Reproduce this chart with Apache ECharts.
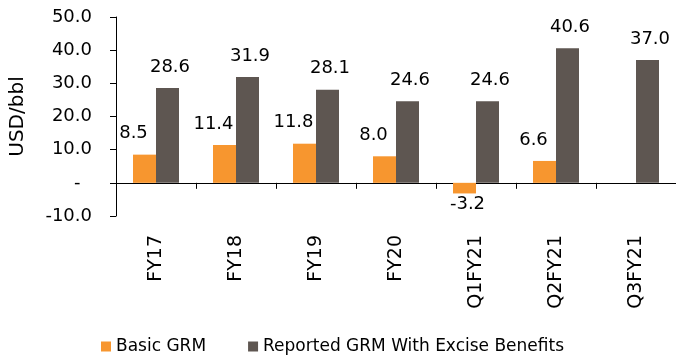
<!DOCTYPE html>
<html>
<head>
<meta charset="utf-8">
<style>
  html, body { margin: 0; padding: 0; background: #fff; }
  #chart { width: 676px; height: 363px; }
</style>
<script src="https://cdn.jsdelivr.net/npm/echarts@6/dist/echarts.min.js"></script>
</head>
<body>
<div id="chart"></div>
<script>
// Gross refining margins, USD per barrel
const categories = ['FY17', 'FY18', 'FY19', 'FY20', 'Q1FY21', 'Q2FY21', 'Q3FY21'];
const basicGRM = [8.5, 11.4, 11.8, 8.0, -3.2, 6.6, null];
const reportedGRM = [28.6, 31.9, 28.1, 24.6, 24.6, 40.6, 37.0];
const seriesNames = ['Basic GRM', 'Reported GRM With Excise Benefits'];
const axisTitle = 'USD/bbl';

const FONT = 'DejaVu Sans';
const ORANGE = '#F7962F';
const GREY = '#5E5651';

const fmt = v => (v === 0 ? '-  ' : v.toFixed(1));

// Negative bars carry their label beneath the bar end
const basicData = basicGRM.map(v => {
  if (v === null) return null;
  if (v < 0) {
    return { value: v, label: { position: 'bottom', distance: 2, offset: [3, 0] } };
  }
  return v;
});

const chart = echarts.init(document.getElementById('chart'));
chart.setOption({
  animation: false,
  grid: { left: 114, top: 17, width: 563.5, height: 199, containLabel: false },
  legend: {
    left: 96,
    top: 333,
    itemWidth: 10,
    itemHeight: 10,
    itemGap: 42,
    icon: 'rect',
    textStyle: { fontFamily: FONT, fontSize: 17, color: '#000' },
    data: seriesNames
  },
  xAxis: {
    type: 'category',
    data: categories,
    axisLine: { onZero: true, lineStyle: { color: '#000', width: 1 } },
    axisTick: { show: true, length: 6, alignWithLabel: false, lineStyle: { color: '#000' } },
    axisLabel: {
      rotate: 90,
      margin: 19,
      interval: 0,
      fontFamily: FONT,
      fontSize: 19,
      color: '#000'
    }
  },
  yAxis: {
    type: 'value',
    min: -10,
    max: 50,
    interval: 10,
    name: axisTitle,
    nameLocation: 'middle',
    nameGap: 88,
    nameRotate: 90,
    nameTextStyle: { fontFamily: FONT, fontSize: 20, color: '#000' },
    splitLine: { show: false },
    axisLine: { show: true, lineStyle: { color: '#000', width: 1 } },
    axisTick: { show: true, length: 6, lineStyle: { color: '#000' } },
    axisLabel: {
      margin: 24,
      fontFamily: FONT,
      fontSize: 18,
      color: '#000',
      formatter: fmt
    }
  },
  series: [
    {
      name: seriesNames[0],
      type: 'bar',
      data: basicData,
      barWidth: 23,
      barGap: '0%',
      itemStyle: { color: ORANGE },
      label: {
        show: true,
        position: 'top',
        distance: 12,
        offset: [-11, 0],
        fontFamily: FONT,
        fontSize: 18,
        color: '#000',
        formatter: p => fmt(p.value)
      }
    },
    {
      name: seriesNames[1],
      type: 'bar',
      data: reportedGRM,
      barWidth: 23,
      barGap: '0%',
      itemStyle: { color: GREY },
      label: {
        show: true,
        position: 'top',
        distance: 12,
        offset: [2.5, 0],
        fontFamily: FONT,
        fontSize: 18,
        color: '#000',
        formatter: p => fmt(p.value)
      }
    }
  ]
});
</script>
</body>
</html>
